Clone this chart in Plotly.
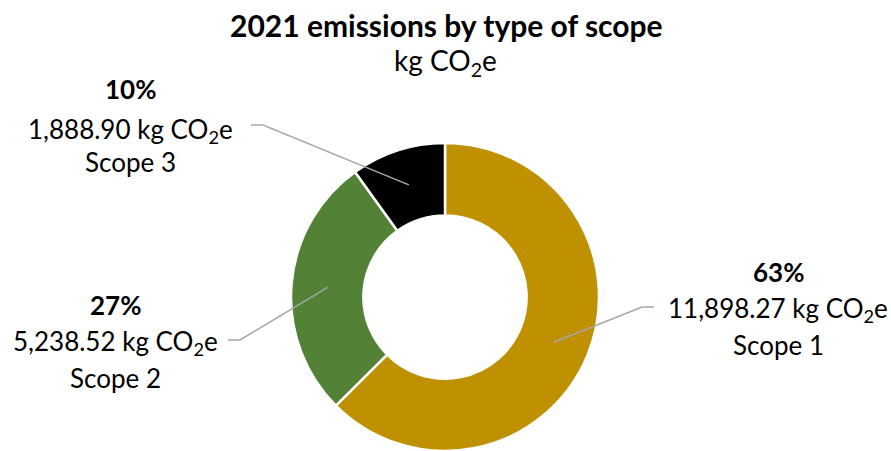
import math
import plotly.graph_objects as go

# Emissions by scope (kg CO2e)
scopes = ["Scope 1", "Scope 2", "Scope 3"]
emissions = [11898.27, 5238.52, 1888.90]
colors = ["#BF9000", "#538135", "#000000"]

W, H = 891, 451
CX, CY = 445, 297          # donut centre in pixels (from top-left)
R_OUT = H - CY             # radius limited by the bottom edge
HOLE = 0.53
FONT = "Lato, Calibri, sans-serif"

# label block anchors (pixel centres) and elbow points of leader lines
label_pos = {
    "Scope 1": dict(x=778, ys=(272, 309, 345), elbow=(642, 307), end=(654, 307)),
    "Scope 2": dict(x=115, ys=(305, 342, 378), elbow=(240, 340), end=(228, 340)),
    "Scope 3": dict(x=130, ys=(89, 130, 162), elbow=(263, 125), end=(251, 125)),
}


def px(x):
    return x / W


def py(y):
    return 1 - y / H


def whole_percents(values):
    """Integer percentages that add up to 100 (largest remainder)."""
    tot = sum(values)
    raw = [v / tot * 100 for v in values]
    base = [math.floor(r) for r in raw]
    left = 100 - sum(base)
    order = sorted(range(len(raw)), key=lambda i: raw[i] - base[i], reverse=True)
    for i in order[:left]:
        base[i] += 1
    return base


fig = go.Figure(go.Pie(
    labels=scopes,
    values=emissions,
    marker=dict(colors=colors, line=dict(color="white", width=2.5)),
    hole=HOLE,
    sort=False,
    direction="clockwise",
    rotation=0,
    textinfo="none",
    showlegend=False,
    domain=dict(x=[px(CX - R_OUT), px(CX + R_OUT)], y=[0, 2 * R_OUT / H]),
))

annotations = [
    dict(text="<b>2021 emissions by type of scope</b>", x=px(446), y=py(25),
         font=dict(size=30, color="black", family=FONT)),
    dict(text="kg CO<sub>2</sub>e", x=px(445), y=py(62),
         font=dict(size=28, color="black", family=FONT)),
]
shapes = []

total = sum(emissions)
percents = whole_percents(emissions)
start = 0.0
for name, val, pct in zip(scopes, emissions, percents):
    share = val / total
    mid = (start + share / 2) * 2 * math.pi
    start += share
    r_mid = R_OUT * (1 + HOLE) / 2
    ax = CX + r_mid * math.sin(mid)
    ay = CY - r_mid * math.cos(mid)
    lp = label_pos[name]
    lines = [f"<b>{pct}%</b>", f"{val:,.2f} kg CO<sub>2</sub>e", name]
    for txt, yy in zip(lines, lp["ys"]):
        annotations.append(dict(text=txt, x=px(lp["x"]), y=py(yy),
                                font=dict(size=26, color="black", family=FONT)))
    ex, ey = lp["elbow"]
    nx, ny = lp["end"]
    shapes.append(dict(
        type="path", xref="paper", yref="paper",
        path=f"M {px(ax)} {py(ay)} L {px(ex)} {py(ey)} L {px(nx)} {py(ny)}",
        line=dict(color="#A6A6A6", width=1.5),
    ))

for a in annotations:
    a.update(xref="paper", yref="paper", showarrow=False,
             xanchor="center", yanchor="middle")

fig.update_layout(
    width=W, height=H,
    margin=dict(l=0, r=0, t=0, b=0),
    paper_bgcolor="white", plot_bgcolor="white",
    annotations=annotations,
    shapes=shapes,
)

fig.write_html("out.html")
